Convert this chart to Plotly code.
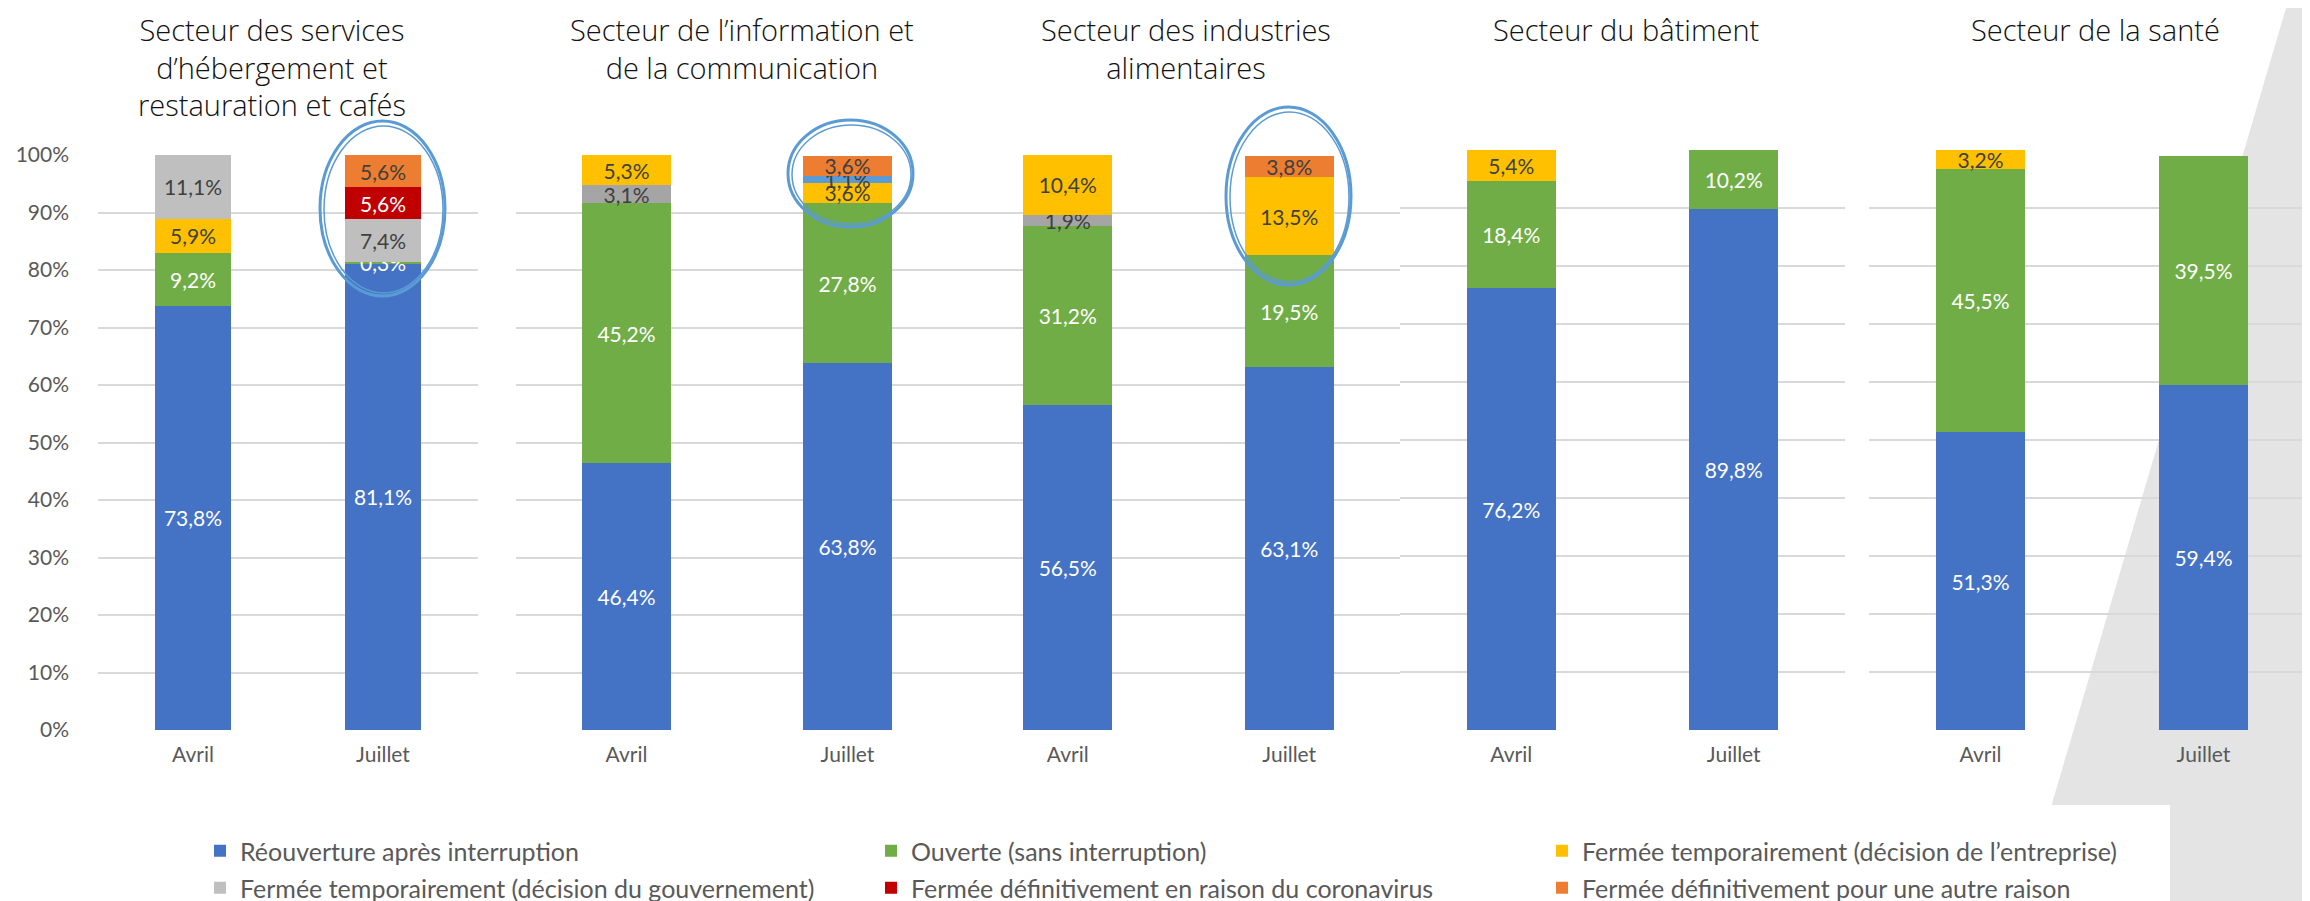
import plotly.graph_objects as go

W, H = 2310, 901

# ---------------- data ----------------
months = ["Avril", "Juillet"]
sectors = [
    "Secteur des services<br>d’hébergement et<br>restauration et cafés",
    "Secteur de l’information et<br>de la communication",
    "Secteur des industries<br>alimentaires",
    "Secteur du bâtiment",
    "Secteur de la santé",
]
series_names = [
    "Réouverture après interruption",
    "Ouverte (sans interruption)",
    "Fermée temporairement (décision de l’entreprise)",
    "Fermée temporairement (décision du gouvernement)",
    "Fermée définitivement en raison du coronavirus",
    "Fermée définitivement pour une autre raison",
]
# values per bar: [sector1 Avril, sector1 Juillet, sector2 Avril, ...]
reouverture = [73.8, 81.1, 46.4, 63.8, 56.5, 63.1, 76.2, 89.8, 51.3, 59.4]
ouverte = [9.2, 0.3, 45.2, 27.8, 31.2, 19.5, 18.4, 10.2, 45.5, 39.5]
fermee_entreprise = [5.9, 0, 5.3, 3.6, 10.4, 13.5, 5.4, 0, 3.2, 0]
fermee_gouvernement = [11.1, 7.4, 3.1, 0, 1.9, 0, 0, 0, 0, 0]
fermee_def_corona = [0, 5.6, 0, 1.1, 0, 0, 0, 0, 0, 0]
fermee_def_autre = [0, 5.6, 0, 3.6, 0, 3.8, 0, 0, 0, 0]
ytick_vals = [0, 10, 20, 30, 40, 50, 60, 70, 80, 90, 100]

series_values = [reouverture, ouverte, fermee_entreprise, fermee_gouvernement,
                 fermee_def_corona, fermee_def_autre]

# ---------------- styles ----------------
WHITE, DARK = "#FFFFFF", "#404040"
# per panel: list of (series index, colour, text colour) in stacking order
panel_styles = [
    [(0, "#4472C4", WHITE), (1, "#70AD47", WHITE), (2, "#FFC000", DARK),
     (3, "#BFBFBF", DARK), (4, "#C00000", WHITE), (5, "#ED7D31", DARK)],
    [(0, "#4472C4", WHITE), (1, "#70AD47", WHITE), (3, "#A5A5A5", DARK),
     (2, "#FFC000", DARK), (4, "#5B9BD5", DARK), (5, "#ED7D31", DARK)],
    [(0, "#4472C4", WHITE), (1, "#70AD47", WHITE), (3, "#A5A5A5", DARK),
     (2, "#FFC000", DARK), (4, "#5B9BD5", DARK), (5, "#ED7D31", DARK)],
    [(0, "#4472C4", WHITE), (1, "#70AD47", WHITE), (2, "#FFC000", DARK)],
    [(0, "#4472C4", WHITE), (1, "#70AD47", WHITE), (2, "#FFC000", DARK)],
]
# pixel geometry of each panel: x0, x1, y(0%), y(100%)
panel_px = [
    (90, 470, 722, 147),
    (508, 950, 722, 147),
    (949, 1392, 722, 147),
    (1392, 1837, 722, 142),
    (1861, 2307, 722, 142),
]
bar_widths = [0.405, 0.4, 0.4, 0.4, 0.4]
title_px = [(264, 0), (734, 0), (1178, 0), (1618, 0), (2087, 0)]

FONT = "Lato, 'Open Sans', sans-serif"
TFONT = "'Open Sans', Lato, sans-serif"
GRID = "#D9D9D9"
AXTXT = "#595959"


def px_x(x):
    return x / W


def px_y(y):
    return 1 - y / H


def fmt(v):
    return (f"{v:.1f}".replace(".", ",") + "%") if v else ""


fig = go.Figure()

for p in range(5):
    ax = "" if p == 0 else str(p + 1)
    for si, col, tcol in panel_styles[p]:
        vals = series_values[si][2 * p: 2 * p + 2]
        if not any(vals):
            continue
        if p == 0:
            leg = "legend" if si < 3 else "legend2"
            show = True
        else:
            leg, show = "legend", False
        fig.add_trace(go.Bar(
            x=months, y=[v if v else None for v in vals],
            name=series_names[si], marker=dict(color=col, line=dict(width=0)),
            width=bar_widths[p],
            text=[fmt(v) for v in vals], textposition="inside",
            insidetextanchor="middle", textangle=0, constraintext="none",
            textfont=dict(family=FONT, size=21, color=tcol),
            xaxis="x" + ax, yaxis="y" + ax,
            showlegend=show, legend=leg, hoverinfo="skip",
        ))

layout = dict(
    template="none",
    width=W, height=H, barmode="stack",
    margin=dict(l=0, r=0, t=0, b=0, pad=0, autoexpand=False),
    paper_bgcolor="#FFFFFF", plot_bgcolor="rgba(0,0,0,0)",
    font=dict(family=FONT, color=AXTXT),
)
for p in range(5):
    ax = "" if p == 0 else str(p + 1)
    x0, x1, yb, yt = panel_px[p]
    layout["xaxis" + ax] = dict(
        domain=[px_x(x0), px_x(x1)], anchor="y" + ax, automargin=False,
        type="category", range=[-0.5, 1.5], showgrid=False, zeroline=False,
        showline=False, ticks="", tickfont=dict(family=FONT, size=21, color=AXTXT),
        ticklabelstandoff=10, fixedrange=True,
    )
    layout["yaxis" + ax] = dict(
        domain=[px_y(yb), px_y(yt)], anchor="x" + ax, automargin=False,
        range=[0, 100], tickvals=ytick_vals,
        ticktext=[f"{v}%" for v in ytick_vals],
        showticklabels=(p == 0), showgrid=True, gridcolor=GRID, gridwidth=2,
        zeroline=False, showline=False, ticks="",
        tickfont=dict(family=FONT, size=21, color=AXTXT),
        ticklabelstandoff=28, fixedrange=True,
    )

legend_common = dict(
    orientation="h", xanchor="left", yanchor="middle",
    xref="container", yref="container",
    entrywidth=626, entrywidthmode="pixels",
    font=dict(family=FONT, size=25, color=AXTXT),
    bgcolor="rgba(0,0,0,0)", traceorder="normal",
)
layout["legend"] = dict(legend_common, x=px_x(192), y=px_y(843))
layout["legend2"] = dict(legend_common, x=px_x(192), y=px_y(880))

annotations = []
for p in range(5):
    cx, ty = title_px[p]
    annotations.append(dict(
        text=sectors[p], x=px_x(cx), y=px_y(ty), xref="paper", yref="paper",
        xanchor="center", yanchor="top", showarrow=False, align="center",
        font=dict(family=TFONT, size=29, color="#111111", weight=300),
    ))
layout["annotations"] = annotations

shapes = []
# decorative grey band on the right of the slide
shapes.append(dict(
    type="path", xref="paper", yref="paper", layer="below",
    path=(f"M {px_x(2278)},{px_y(0)} L {px_x(2310)},{px_y(0)} "
          f"L {px_x(2310)},{px_y(901)} L {px_x(2013)},{px_y(901)} Z"),
    fillcolor="#E4E4E4", line=dict(width=0),
))
# white box behind the legend
shapes.append(dict(
    type="rect", xref="paper", yref="paper", layer="below",
    x0=px_x(0), x1=px_x(2162), y0=px_y(797), y1=px_y(901),
    fillcolor="#FFFFFF", line=dict(width=0),
))
# hand-drawn highlight ellipses
for (ex0, ex1, ey0, ey1) in [(312, 437, 113, 288), (780, 905, 112, 219),
                             (1218, 1343, 99, 277)]:
    shapes.append(dict(
        type="circle", xref="paper", yref="paper", layer="above",
        x0=px_x(ex0), x1=px_x(ex1), y0=px_y(ey1), y1=px_y(ey0),
        line=dict(color="#5B9BD5", width=3),
    ))
    shapes.append(dict(
        type="circle", xref="paper", yref="paper", layer="above",
        x0=px_x(ex0 + 4), x1=px_x(ex1 - 2), y0=px_y(ey1 - 3), y1=px_y(ey0 + 5),
        line=dict(color="#5B9BD5", width=1.5),
    ))
layout["shapes"] = shapes

fig.update_layout(**layout)
fig.write_html("out.html")
